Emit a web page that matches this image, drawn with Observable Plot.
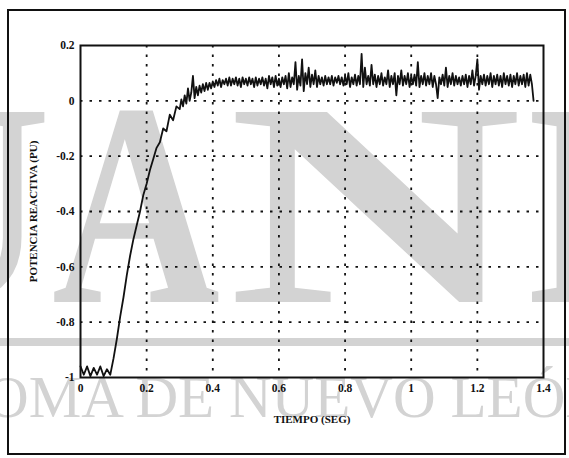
<!DOCTYPE html>
<html><head><meta charset="utf-8">
<script src="https://cdn.jsdelivr.net/npm/d3@7"></script>
<script src="https://cdn.jsdelivr.net/npm/@observablehq/plot@0.6"></script>
<style>
html,body{margin:0;padding:0;background:#fff;}
#wrap{position:relative;width:569px;height:458px;overflow:hidden;background:#fff;}
#wm{position:absolute;left:0;top:0;}
#chart{position:absolute;left:0;top:0;}
#border{position:absolute;left:7px;top:9px;width:555px;height:442px;border:2px solid #111;}
</style></head><body>
<div id="wrap">
<svg id="wm" width="569" height="458" xmlns="http://www.w3.org/2000/svg">
 <g fill="#d3d3d3" font-family="Liberation Serif, DejaVu Serif, serif">
  <g font-weight="bold">
   <text x="-170" y="302" font-size="290" textLength="222" lengthAdjust="spacingAndGlyphs">U</text>
   <text x="52" y="302" font-size="290" textLength="168" lengthAdjust="spacingAndGlyphs">A</text>
   <text x="228" y="302" font-size="290" textLength="294" lengthAdjust="spacingAndGlyphs">N</text>
   <text x="527" y="302" font-size="290" textLength="195" lengthAdjust="spacingAndGlyphs">L</text>
  </g>
  <text x="-14" y="417" font-size="60" textLength="622" lengthAdjust="spacingAndGlyphs">OMA DE NUEVO LEÓN</text>
 </g>
 <rect x="0" y="338" width="569" height="8" fill="#d3d3d3"/>
</svg>
<div id="chart"></div>
<div id="border"></div>
</div>
<script>
const tiempo = [
 0.00,0.01,0.02,0.03,0.04,0.05,0.06,0.07,0.08,0.09,
 0.10,0.11,0.12,0.13,0.14,0.15,0.16,0.17,0.18,0.19,
 0.20,0.21,0.22,0.23,0.24,0.25,0.26,0.27,0.28,0.29,
 0.300,0.305,0.310,0.315,0.320,0.325,0.330,0.335,0.340,0.345,
 0.350,0.355,0.360,0.365,0.370,0.375,0.380,0.385,0.390,0.395,
 0.400,0.405,0.410,0.415,0.420,0.425,0.430,0.435,0.440,0.445,
 0.450,0.455,0.460,0.465,0.470,0.475,0.480,0.485,0.490,0.495,
 0.500,0.505,0.510,0.515,0.520,0.525,0.530,0.535,0.540,0.545,
 0.550,0.555,0.560,0.565,0.570,0.575,0.580,0.585,0.590,0.595,
 0.600,0.605,0.610,0.615,0.620,0.625,0.630,0.635,0.640,0.645,
 0.650,0.655,0.660,0.665,0.670,0.675,0.680,0.685,0.690,0.695,
 0.700,0.705,0.710,0.715,0.720,0.725,0.730,0.735,0.740,0.745,
 0.750,0.755,0.760,0.765,0.770,0.775,0.780,0.785,0.790,0.795,
 0.800,0.805,0.810,0.815,0.820,0.825,0.830,0.835,0.840,0.845,
 0.850,0.855,0.860,0.865,0.870,0.875,0.880,0.885,0.890,0.895,
 0.900,0.905,0.910,0.915,0.920,0.925,0.930,0.935,0.940,0.945,
 0.950,0.955,0.960,0.965,0.970,0.975,0.980,0.985,0.990,0.995,
 1.000,1.005,1.010,1.015,1.020,1.025,1.030,1.035,1.040,1.045,
 1.050,1.055,1.060,1.065,1.070,1.075,1.080,1.085,1.090,1.095,
 1.100,1.105,1.110,1.115,1.120,1.125,1.130,1.135,1.140,1.145,
 1.150,1.155,1.160,1.165,1.170,1.175,1.180,1.185,1.190,1.195,
 1.200,1.205,1.210,1.215,1.220,1.225,1.230,1.235,1.240,1.245,
 1.250,1.255,1.260,1.265,1.270,1.275,1.280,1.285,1.290,1.295,
 1.300,1.305,1.310,1.315,1.320,1.325,1.330,1.335,1.340,1.345,
 1.350,1.355,1.360,1.365,1.370
];
const potencia = [
 -0.96,-0.99,-0.96,-0.995,-0.965,-0.99,-0.96,-0.995,-0.97,-0.99,
 -0.93,-0.86,-0.78,-0.71,-0.63,-0.56,-0.50,-0.45,-0.40,-0.34,
 -0.30,-0.25,-0.21,-0.17,-0.15,-0.10,-0.11,-0.05,-0.07,-0.02,
 -0.03,0.005,-0.02,0.02,-0.01,0.045,0.00,0.03,0.09,0.01,
 0.05,0.02,0.055,0.03,0.06,0.035,0.065,0.04,0.065,0.045,
 0.07,0.05,0.075,0.055,0.08,0.05,0.075,0.06,0.08,0.055,
 0.085,0.055,0.08,0.06,0.085,0.055,0.08,0.05,0.085,0.06,
 0.08,0.055,0.085,0.06,0.08,0.05,0.085,0.055,0.08,0.06,
 0.085,0.055,0.08,0.045,0.09,0.06,0.085,0.05,0.09,0.055,
 0.08,0.05,0.085,0.06,0.09,0.045,0.10,0.05,0.085,0.06,
 0.14,0.04,0.09,0.055,0.15,0.035,0.10,0.06,0.12,0.05,
 0.095,0.06,0.11,0.05,0.09,0.06,0.085,0.055,0.09,0.06,
 0.085,0.06,0.09,0.055,0.085,0.065,0.09,0.06,0.085,0.055,
 0.09,0.06,0.10,0.05,0.085,0.06,0.095,0.055,0.09,0.06,
 0.17,0.05,0.12,0.06,0.09,0.055,0.13,0.06,0.095,0.05,
 0.09,0.06,0.10,0.055,0.085,0.06,0.11,0.05,0.09,0.06,
 0.10,0.02,0.09,0.06,0.11,0.055,0.09,0.06,0.10,0.05,
 0.09,0.06,0.095,0.055,0.14,0.05,0.09,0.06,0.10,0.055,
 0.09,0.06,0.10,0.05,0.09,0.06,0.01,0.085,0.06,0.095,
 0.055,0.12,0.05,0.09,0.06,0.10,0.055,0.09,0.06,0.085,
 0.055,0.09,0.06,0.095,0.05,0.09,0.06,0.11,0.055,0.09,
 0.15,0.04,0.09,0.06,0.095,0.055,0.09,0.06,0.10,0.05,
 0.09,0.06,0.095,0.055,0.09,0.05,0.10,0.06,0.09,0.055,
 0.095,0.05,0.09,0.06,0.10,0.055,0.09,0.06,0.095,0.05,
 0.10,0.055,0.095,0.06,0.00
];
const xTicks = [0, 0.2, 0.4, 0.6, 0.8, 1, 1.2, 1.4];
const yTicks = [-1, -0.8, -0.6, -0.4, -0.2, 0, 0.2];
const gridX = [0.2, 0.4, 0.6, 0.8, 1, 1.2];
const gridY = [-0.8, -0.6, -0.4, -0.2, 0];
const xTitle = "TIEMPO (SEG)";
const yTitle = "POTENCIA REACTIVA (PU)";

const fmt = d => String(Math.round(d * 10) / 10);
const data = tiempo.map((t, i) => ({t, q: potencia[i]}));

const chart = Plot.plot({
  width: 569, height: 458,
  marginLeft: 80, marginRight: 26, marginTop: 45, marginBottom: 81,
  style: {background: "transparent", fontFamily: "'Liberation Serif', serif", fontSize: "11.5px", fontWeight: "bold", color: "#111"},
  x: {domain: [0, 1.4], ticks: xTicks, tickFormat: fmt, tickSize: 0, tickPadding: 6, label: null},
  y: {domain: [-1, 0.2], ticks: yTicks, tickFormat: fmt, tickSize: 0, tickPadding: 6, label: null},
  marks: [
    Plot.ruleX(gridX, {stroke: "#111", strokeWidth: 1.8, strokeDasharray: "2.5,7"}),
    Plot.ruleY(gridY, {stroke: "#111", strokeWidth: 1.8, strokeDasharray: "2.5,7"}),
    Plot.line(data, {x: "t", y: "q", stroke: "#111", strokeWidth: 1.8}),
    Plot.frame({stroke: "#111", strokeWidth: 2}),
    Plot.text([xTitle], {frameAnchor: "bottom", dy: 45, text: d => d, fontSize: 11, fontWeight: "bold", fill: "#111", textAnchor: "middle", style: {letterSpacing: "0.6px"}}),
    Plot.text([yTitle], {frameAnchor: "left", dx: -47, rotate: -90, textAnchor: "middle", text: d => d, fontSize: 11, fontWeight: "bold", fill: "#111"})
  ]
});
document.getElementById("chart").appendChild(chart);
</script>
</body></html>
